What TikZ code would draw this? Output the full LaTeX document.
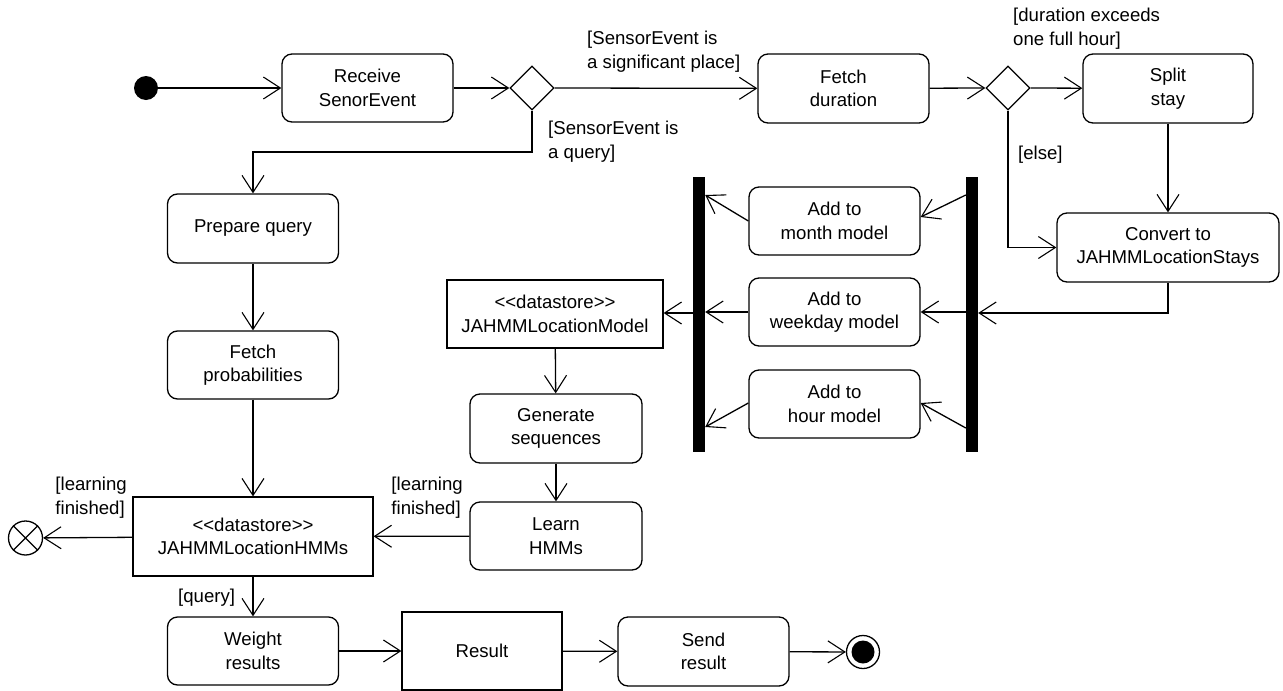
\documentclass[tikz,border=0pt]{standalone}
\usepackage{fontspec}
\setmainfont{Liberation Sans}
\usetikzlibrary{arrows.meta,shapes.geometric}
\begin{document}
\begin{tikzpicture}[x=1pt,y=-1pt,
  every node/.style={font=\fontsize{18.6}{23.5}\selectfont},
  action/.style={draw,rounded corners=10pt,line width=1.3pt,minimum width=171pt,minimum height=68pt,align=center,inner sep=2pt},
  store/.style={draw,line width=1.2pt,align=center,inner sep=2pt},
  decision/.style={draw,diamond,line width=1.3pt,minimum width=44pt,minimum height=44pt,inner sep=0pt},
  bar/.style={fill=black,draw=none,minimum width=12pt,minimum height=275pt,inner sep=0pt},
  guard/.style={align=left,inner sep=0pt},
  flow/.style={line width=1.3pt,-{Straight Barb[length=17pt,width=22pt,line width=1.1pt]}},
  line/.style={line width=1.3pt}]
\useasboundingbox (0,0) rectangle (1283,691);
% nodes
\node[circle,fill=black,minimum size=24pt,inner sep=0pt] (start) at (146,88) {};
\node[action] (recv) at (367.5,88) {Receive\\SenorEvent};
\node[decision] (d1) at (532,88) {};
\node[action,minimum height=69pt] (fdur) at (843.5,88.5) {Fetch\\duration};
\node[decision] (d2) at (1008,88) {};
\node[action,minimum width=170pt,minimum height=69pt] (split) at (1168,88.5) {Split\\stay};
\node[action,minimum width=222pt,minimum height=69pt] (conv) at (1168,247.5) {Convert to\\JAHMMLocationStays};
\node[bar] (lbar) at (699,314.5) {};
\node[bar] (rbar) at (972,314.5) {};
\node[action] (month) at (834.5,221) {Add to\\month model};
\node[action] (week) at (834.5,312) {Add to\\weekday model};
\node[action] (hour) at (834.5,404) {Add to\\hour model};
\node[store,minimum width=216pt,minimum height=68pt] (lmodel) at (555,314) {<{}<datastore>{}>\\JAHMMLocationModel};
\node[action,minimum width=172pt,minimum height=69pt] (gen) at (556,428.5) {Generate\\sequences};
\node[action,minimum width=172pt] (learn) at (556,536) {Learn\\HMMs};
\node[action,minimum height=69pt] (prep) at (253,228.5) {Prepare query};
\node[action] (fprob) at (253,365) {Fetch\\probabilities};
\node[store,minimum width=240pt,minimum height=79pt] (hmms) at (253,536.5) {<{}<datastore>{}>\\JAHMMLocationHMMs};
\node[circle,draw,line width=1.3pt,minimum size=34pt,inner sep=0pt] (flowfinal) at (25.5,538) {};
\draw[line width=1.3pt] (flowfinal.north west) -- (flowfinal.south east) (flowfinal.north east) -- (flowfinal.south west);
\node[action] (weight) at (253,651) {Weight\\results};
\node[store,minimum width=160pt,minimum height=78pt] (result) at (482,651) {Result};
\node[action,minimum height=69pt] (send) at (703.5,651.5) {Send\\result};
\node[circle,draw,line width=1.3pt,minimum size=33pt,inner sep=0pt] (final) at (863,652) {};
\node[circle,fill=black,minimum size=23pt,inner sep=0pt] (finalin) at (863,652) {};
% guards
\node[guard,anchor=north west] (g1) at (587,31) {[SensorEvent is\\a significant place]};
\node[guard,anchor=north west] (g2) at (548,121) {[SensorEvent is\\a query]};
\node[guard,anchor=north west] (g3) at (1013,8) {[duration exceeds\\one full hour]};
\node[guard,anchor=north west] (g4) at (1018,146) {[else]};
\node[guard,anchor=north east] (g5) at (463,477) {[learning\\finished]};
\node[guard,anchor=north east] (g6) at (127,477) {[learning\\finished]};
\node[guard,anchor=north west] (g7) at (178,589) {[query]};
% connectors
\draw[flow] (start) -- (recv);
\draw[flow] (recv) -- (d1.west);
\draw[flow] (d1.east) -- (fdur);
\draw[flow] (fdur) -- (d2.west);
\draw[flow] (d2.east) -- (split);
\draw[flow] (split) -- (conv);
\draw[flow] (d2.south) |- (conv.west);
\draw[flow] (d1.south) |- (253,152) -- (prep.north);
\draw[flow] (conv.south) |- (rbar.east |- 0,313);
\draw[flow] (rbar.west |- 0,195) -- (month.east |- 0,217);
\draw[flow] (rbar.west |- 0,312) -- (week.east |- 0,312);
\draw[flow] (rbar.west |- 0,428) -- (hour.east |- 0,403);
\draw[flow] (month.west |- 0,221) -- (lbar.east |- 0,195);
\draw[flow] (week.west |- 0,312) -- (lbar.east |- 0,312);
\draw[flow] (hour.west |- 0,403) -- (lbar.east |- 0,427);
\draw[flow] (lbar.west |- 0,313) -- (lmodel.east |- 0,313);
\draw[flow] (lmodel) -- (gen);
\draw[flow] (gen) -- (learn);
\draw[flow] (learn) -- (hmms);
\draw[flow] (hmms) -- (flowfinal);
\draw[flow] (prep) -- (fprob);
\draw[flow] (fprob) -- (hmms);
\draw[flow] (hmms) -- (weight);
\draw[flow] (weight) -- (result);
\draw[flow] (result) -- (send);
\draw[flow] (send) -- (final);
\end{tikzpicture}
\end{document}
